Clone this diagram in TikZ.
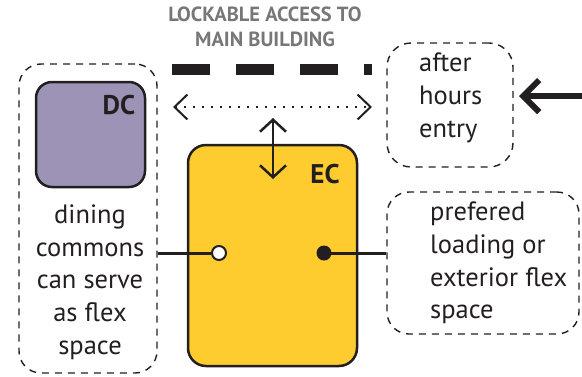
\documentclass[tikz,border=0pt]{standalone}
\usepackage{fontspec}
\setmainfont{PT Sans}
\usetikzlibrary{arrows.meta}
\definecolor{ink}{HTML}{231F20}
\definecolor{dcpurple}{HTML}{9D93B6}
\definecolor{ecyellow}{HTML}{FECC2F}
\definecolor{titlegray}{HTML}{777777}
\tikzset{
  dashbox/.style={draw=ink, line width=1.4pt, dash pattern=on 7pt off 6pt, rounded corners=22pt, inner sep=0pt},
  roombox/.style={draw=ink, line width=2.5pt, inner sep=0pt},
  lbl/.style={font=\fontsize{26.5}{32.7}\selectfont, text=ink, inner sep=0pt},
  roomlbl/.style={font=\bfseries\fontsize{27}{30}\selectfont, text=ink, inner sep=0pt}
}
\begin{document}
\begin{tikzpicture}[x=1pt, y=-1pt]
\useasboundingbox (0,0) rectangle (582,376);
% title
\node[font=\bfseries\fontsize{20.5}{24.5}\selectfont, text=titlegray, align=center, inner sep=0pt] (title) at (265,27) {LOCKABLE ACCESS TO\\MAIN BUILDING};
% thick dashed wall
\coordinate (w1) at (172,69);
\coordinate (w2) at (372,69);
\draw[ink, line width=11pt, dash pattern=on 38pt off 26pt] (w1) -- (w2);
% left dashed container
\node[dashbox, minimum width=138pt, minimum height=309pt] (left) at (88,218.5) {};
% DC box
\node[roombox, fill=dcpurple, rounded corners=16pt, minimum width=109pt, minimum height=105pt] (dc) at (90.5,134.5) {};
\node[roomlbl] (dclbl) at (119,105) {DC};
\node[lbl, align=center] (dctext) at (90,282) {dining\\commons\\can serve\\as flex\\space};
% EC box
\node[roombox, fill=ecyellow, rounded corners=18pt, minimum width=169pt, minimum height=221pt] (ec) at (272.5,255.5) {};
\node[roomlbl] (eclbl) at (325,174) {EC};
% after hours box
\node[dashbox, rounded corners=24pt, minimum width=126pt, minimum height=124pt] (after) at (450,105) {};
\node[lbl, align=left, anchor=west] (aftertext) at (419,98) {after\\hours\\entry};
% loading box
\node[dashbox, minimum width=192pt, minimum height=142pt] (load) at (483,263) {};
\node[lbl, align=left, anchor=west] (loadtext) at (430,263) {prefered\\loading or\\exterior flex\\space};
% connectors
\node[circle, draw=ink, fill=white, line width=2pt, minimum size=14pt, inner sep=0pt] (wc) at (219,253) {};
\node[circle, fill=ink, minimum size=15pt, inner sep=0pt] (bc) at (324,253) {};
\draw[ink, line width=3pt] (left.east |- wc) -- (wc.west);
\draw[ink, line width=3pt] (bc.center) -- (load.west |- bc);
% dotted double arrow
\coordinate (d1) at (173,107);
\coordinate (d2) at (372,107);
\draw[ink, line width=2pt, dash pattern=on 2pt off 7pt, {Straight Barb[length=13pt, width=25pt]}-{Straight Barb[length=13pt, width=25pt]}] (d1) -- (d2);
% vertical double arrow
\coordinate (v1) at (273,118);
\coordinate (v2) at (273,179);
\draw[ink, line width=2.5pt, {Straight Barb[length=12pt, width=26pt]}-{Straight Barb[length=12pt, width=26pt]}] (v1) -- (v2);
% entry arrow
\coordinate (e0) at (582,96);
\coordinate (e1) at (519,96);
\draw[ink, line width=6pt, -{Straight Barb[length=16pt, width=32pt]}] (e0) -- (e1);
\end{tikzpicture}
\end{document}
